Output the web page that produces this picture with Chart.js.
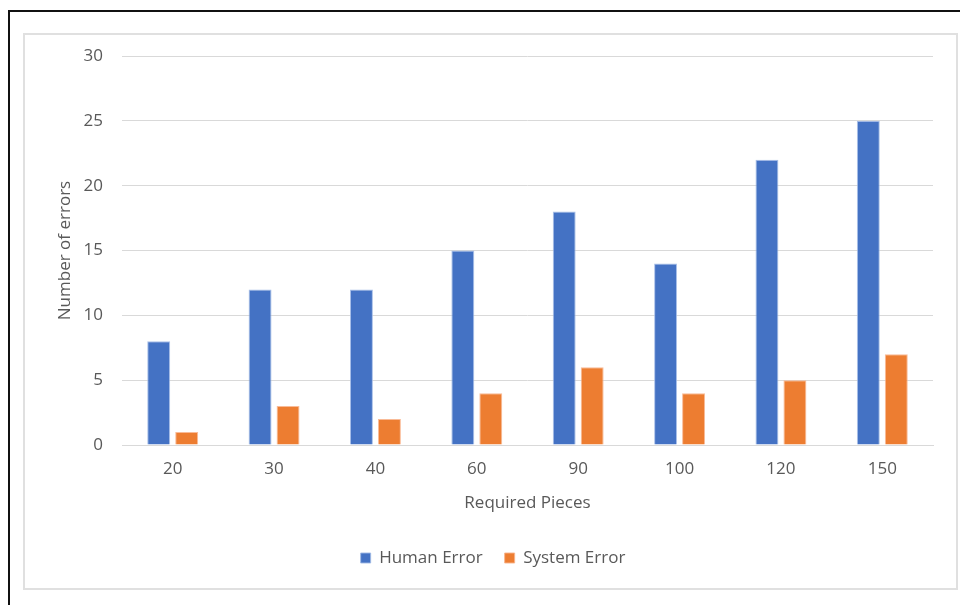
<!DOCTYPE html>
<html>
<head>
<meta charset="utf-8">
<script src="https://cdn.jsdelivr.net/npm/chart.js@4/dist/chart.umd.min.js"></script>
<style>
  html, body { margin: 0; padding: 0; background: #fff; width: 960px; height: 605px; overflow: hidden; }
  #outer { position: absolute; left: 8px; top: 10px; width: 960px; height: 600px; border-left: 2px solid #111; border-top: 2px solid #111; }
  #inner { position: absolute; left: 23px; top: 33px; width: 931px; height: 553px; border: 2px solid #e0e0e0; }
  #wrap { position: absolute; left: 0; top: 0; width: 931px; height: 553px; }
</style>
</head>
<body>
<div id="outer"></div>
<div id="inner"><div id="wrap"><canvas id="c" width="931" height="553"></canvas></div></div>
<script>
const categories = ["20", "30", "40", "60", "90", "100", "120", "150"];
const humanError = [8, 12, 12, 15, 18, 14, 22, 25];
const systemError = [1, 3, 2, 4, 6, 4, 5, 7];
const seriesNames = ["Human Error", "System Error"];
const yTicks = [0, 5, 10, 15, 20, 25, 30];

const FONT = "'Open Sans', 'Noto Sans', sans-serif";
const TEXT = "#595959";

new Chart(document.getElementById('c'), {
  type: 'bar',
  data: {
    labels: categories,
    datasets: [
      { label: seriesNames[0], data: humanError, backgroundColor: '#4472C4', borderColor: 'rgba(160,185,230,0.9)', borderWidth: 1, categoryPercentage: 0.552, barPercentage: 0.82 },
      { label: seriesNames[1], data: systemError, backgroundColor: '#ED7D31', borderColor: 'rgba(248,180,140,0.9)', borderWidth: 1, categoryPercentage: 0.552, barPercentage: 0.82 }
    ]
  },
  options: {
    responsive: false,
    animation: false,
    devicePixelRatio: 1,
    layout: { padding: { left: 28, right: 23, top: 21, bottom: 11.5 } },
    plugins: {
      legend: {
        position: 'bottom',
        labels: { font: { family: FONT, size: 17 }, color: TEXT, boxWidth: 10, boxHeight: 10, padding: 22 }
      },
      tooltip: { enabled: false }
    },
    scales: {
      x: {
        grid: { display: false, drawTicks: false },
        border: { display: true, color: '#d9d9d9', width: 1 },
        ticks: { font: { family: FONT, size: 17 }, color: TEXT, padding: 14, maxRotation: 0 },
        title: { display: true, text: 'Required Pieces', font: { family: FONT, size: 17 }, color: TEXT, padding: { top: 0, bottom: 14.3 } },
        afterFit: (s) => { s.height = 82.5; s.paddingLeft = 0; s.paddingRight = 0; }
      },
      y: {
        min: 0, max: 30,
        afterBuildTicks: (s) => { s.ticks = yTicks.map(v => ({ value: v })); },
        grid: { color: '#d9d9d9', lineWidth: 1, drawTicks: false },
        border: { display: false },
        ticks: { font: { family: FONT, size: 17 }, color: TEXT, padding: 19 },
        title: { display: true, text: 'Number of errors', font: { family: FONT, size: 17 }, color: TEXT, padding: { top: 1.8, bottom: 0 } },
        afterFit: (s) => { s.width = 69; s.paddingTop = 0; s.paddingBottom = 0; }
      }
    }
  }
});
</script>
</body>
</html>
